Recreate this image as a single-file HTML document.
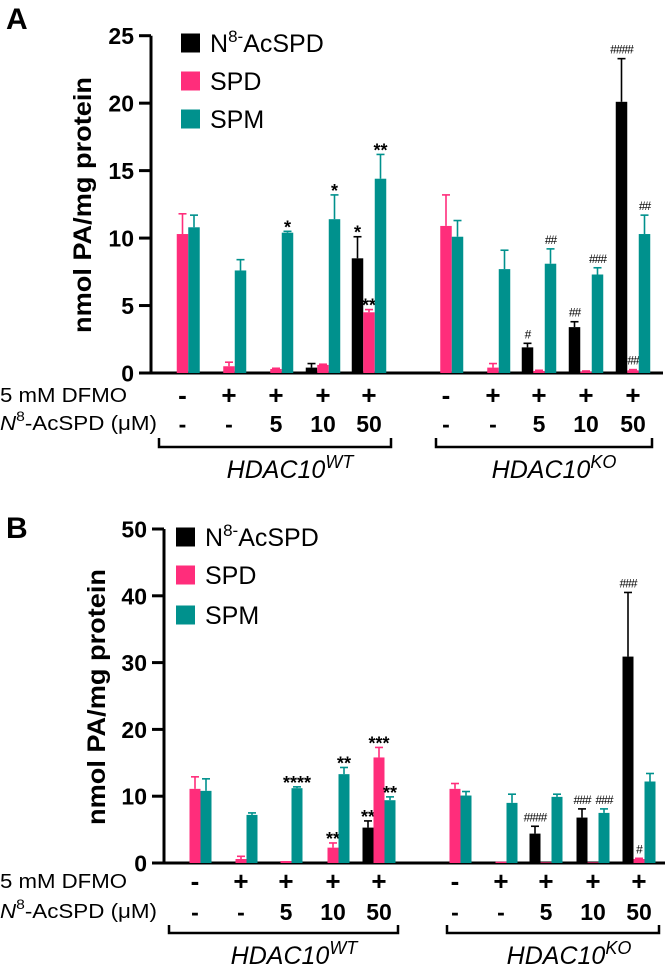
<!DOCTYPE html>
<html><head><meta charset="utf-8">
<style>
html,body{margin:0;padding:0;background:#fff;}
svg{display:block;font-family:"Liberation Sans",sans-serif;}
</style></head>
<body>
<svg id="chart" width="665" height="966" viewBox="0 0 665 966" xmlns="http://www.w3.org/2000/svg"></svg>
<script>
// ---- Data (panel A) ----
const groupsA = ["WT-ctrl","WT-DFMO","WT-5","WT-10","WT-50","KO-ctrl","KO-DFMO","KO-5","KO-10","KO-50"];
const n8A    = [0,0,0,0.4,8.5, 0,0,1.9,3.4,20.1];
const n8ErrA = [0,0,0,0.7,10.1, 0,0,2.2,3.8,23.3];
const spdA    = [10.3,0.5,0.3,0.6,4.5, 10.9,0.4,0.15,0.1,0.2];
const spdErrA = [11.8,0.8,0.35,0.65,4.7, 13.2,0.7,0.2,0.15,0.25];
const spmA    = [10.8,7.6,10.4,11.4,14.4, 10.1,7.7,8.1,7.3,10.3];
const spmErrA = [11.7,8.4,10.5,13.2,16.2, 11.3,9.1,9.2,7.8,11.7];
const n8SigA  = ["","","","","*", "","","#","##","####"];
const spdSigA = ["","","","","**", "","","","","##"];
const spmSigA = ["","","*","*","**", "","","##","###","##"];
const ticksA = [0,5,10,15,20,25];
// ---- Data (panel B) ----
const n8B    = [0,0,0,0.2,5.3, 0,0,4.4,6.8,30.9];
const n8ErrB = [0,0,0,0.2,6.3, 0,0,5.5,8.1,40.5];
const spdB    = [11.1,0.6,0.3,2.3,15.8, 11.1,0.2,0.1,0.1,0.6];
const spdErrB = [12.9,1.0,0.3,3.0,17.3, 11.9,0.2,0.1,0.1,0.7];
const spmB    = [10.8,7.2,11.2,13.3,9.4, 10.1,9.0,9.9,7.5,12.2];
const spmErrB = [12.6,7.5,11.4,14.3,9.9, 10.7,10.3,10.3,8.1,13.4];
const n8SigB  = ["","","","","**", "","","####","###","###"];
const spdSigB = ["","","","**","***", "","","","","#"];
const spmSigB = ["","","****","**","**", "","","","###",""];
const ticksB = [0,10,20,30,40,50];
const dfmoLabels = ["-","+","+","+","+","-","+","+","+","+"];
const acLabels   = ["-","-","5","10","50","-","-","5","10","50"];

const NS="http://www.w3.org/2000/svg";
const svg=document.getElementById('chart');
const BLACK="#000", PINK="#FF2D7B", TEAL="#00918D";
function mk(tag,attrs,parent){const e=document.createElementNS(NS,tag);for(const k in attrs)e.setAttribute(k,attrs[k]);(parent||svg).appendChild(e);return e;}

function panel(cfg){
  const g=mk('g',{});
  
  
  const y=v=>cfg.y0-(v/cfg.ymax)*(cfg.y0-cfg.ytop);
  const xc=i=>cfg.centers[i];
  const L=mk('text',{x:6,y:cfg.letterY,'font-size':30,'font-weight':'bold'},g);L.textContent=cfg.letter;
  
  
  const ax=mk('line',{x1:cfg.ax,y1:cfg.ytop,x2:cfg.ax,y2:cfg.y0,stroke:'#000','stroke-width':3},g);
  
  
  const xa=mk('line',{x1:cfg.ax-1.5,y1:cfg.y0,x2:cfg.xend,y2:cfg.y0,stroke:'#000','stroke-width':3},g);
  
  
  cfg.ticks.forEach(t=>{
    const ty=y(t);
    const tl=mk('line',{x1:cfg.ax-12,y1:ty,x2:cfg.ax,y2:ty,stroke:'#000','stroke-width':3},g);
    
    
    const tt=mk('text',{x:cfg.ax-17,y:ty+8.5,'font-size':23,'font-weight':'bold','text-anchor':'end'},g);
    tt.textContent=t;
    
    
  });
  const yt=mk('text',{x:0,y:0,'font-size':25,'font-weight':'bold','text-anchor':'middle',transform:`translate(${cfg.titleX},${cfg.titleY}) rotate(-90)`,textLength:cfg.titleLen,lengthAdjust:'spacingAndGlyphs'},g);
  yt.textContent='nmol PA/mg protein';
  
  
  const bw=cfg.bw;
  const series=[[cfg.n8,cfg.n8e,cfg.n8s,BLACK,-1,'n8-acspd'],[cfg.spd,cfg.spde,cfg.spds,PINK,0,'spd'],[cfg.spm,cfg.spme,cfg.spms,TEAL,1,'spm']];
  series.forEach(([vals,errs,sigs,col,off,nm])=>{
    vals.forEach((v,i)=>{
      const cx=xc(i)+off*bw;
      const top=y(v);
      if(v>0){
        const r=mk('rect',{x:cx-bw/2,y:top,width:bw,height:Math.max(cfg.y0-top,0.5),fill:col},g);
        
        
        const et=y(errs[i]);
        if(errs[i]>v){
          const e1=mk('line',{x1:cx,y1:et,x2:cx,y2:top,stroke:col,'stroke-width':1.6},g);
          
          
          const e2=mk('line',{x1:cx-4,y1:et,x2:cx+4,y2:et,stroke:col,'stroke-width':1.6},g);
          
          
        }
      }
      if(sigs[i]){
        const isStar=sigs[i][0]==='*';
        const st=mk('text',{x:cx,y:y(Math.max(errs[i],v))-(isStar?-2:5),'font-size':isStar?18:12,'font-weight':isStar?'bold':'normal','text-anchor':'middle','letter-spacing':isStar?0:-1},g);
        st.textContent=sigs[i];
        
        
      }
    });
  });
  [['N8',BLACK],['SPD',PINK],['SPM',TEAL]].forEach(([lbl,col],k)=>{
    const ly=cfg.legY[k];
    const sq=mk('rect',{x:cfg.legX,y:ly-9.5,width:19,height:19,fill:col},g);
    
    
    const t=mk('text',{x:cfg.legX+29,y:ly+9,'font-size':25},g);
    if(lbl==='N8'){t.innerHTML='N<tspan dy="-10" font-size="17">8-</tspan><tspan dy="10">AcSPD</tspan>';}
    else t.textContent=lbl;
    
    
  });
  const r1=mk('text',{x:0,y:cfg.row1+7,'font-size':20,textLength:127,lengthAdjust:'spacingAndGlyphs'},g);
  r1.textContent='5 mM DFMO';
  
  
  const r2=mk('text',{x:0,y:cfg.row2+8,'font-size':20,textLength:157,lengthAdjust:'spacingAndGlyphs'},g);
  r2.innerHTML='<tspan font-style="italic">N</tspan><tspan dy="-9" font-size="14">8</tspan><tspan dy="9">-AcSPD (μM)</tspan>';
  
  
  dfmoLabels.forEach((s,i)=>{
    const t=mk('text',{x:xc(i),y:cfg.row1+9,'font-size':26,'font-weight':'bold','text-anchor':'middle'},g);
    t.textContent=s;
    
    
    const u=mk('text',{x:xc(i),y:cfg.row2+10,'font-size':23,'font-weight':'bold','text-anchor':'middle'},g);
    u.textContent=acLabels[i];
    
    
  });
  cfg.brackets.forEach(([x1,x2,lab,cx],k)=>{
    const p=mk('path',{d:`M${x1},${cfg.brTop} V${cfg.brBot} H${x2} V${cfg.brTop}`,fill:'none',stroke:'#000','stroke-width':2.5},g);
    
    
    const t=mk('text',{x:cx,y:cfg.grpY,'font-size':25,'font-style':'italic','text-anchor':'middle'},g);
    t.innerHTML='HDAC10<tspan dy="-10" font-size="18">'+lab+'</tspan>';
    
    
  });
}

panel({letter:'A',letterY:29,ax:151,ytop:35.7,y0:373,ymax:25,xend:663,ticks:ticksA,
  titleX:91,titleY:205,titleLen:256,bw:11.5,
  centers:[182.5,229,276,323,369,446,493,539,586,633],
  n8:n8A,n8e:n8ErrA,n8s:n8SigA,spd:spdA,spde:spdErrA,spds:spdSigA,spm:spmA,spme:spmErrA,spms:spmSigA,
  legX:181,legY:[43,81,119],row1:395,row2:422,brTop:438,brBot:447,grpY:478,
  brackets:[[159,391,'WT',290],[436,652,'KO',554]]});
panel({letter:'B',letterY:538,ax:164,ytop:529,y0:863,ymax:50,xend:665,ticks:ticksB,
  titleX:105,titleY:697,titleLen:256,bw:11,
  centers:[195,241,286,333,379,455,501,546,593,639],
  n8:n8B,n8e:n8ErrB,n8s:n8SigB,spd:spdB,spde:spdErrB,spds:spdSigB,spm:spmB,spme:spmErrB,spms:spmSigB,
  legX:176,legY:[537,575,615],row1:881,row2:910,brTop:925,brBot:933,grpY:964,
  brackets:[[169,398,'WT',294],[447,659,'KO',569]]});
</script>
</body></html>
